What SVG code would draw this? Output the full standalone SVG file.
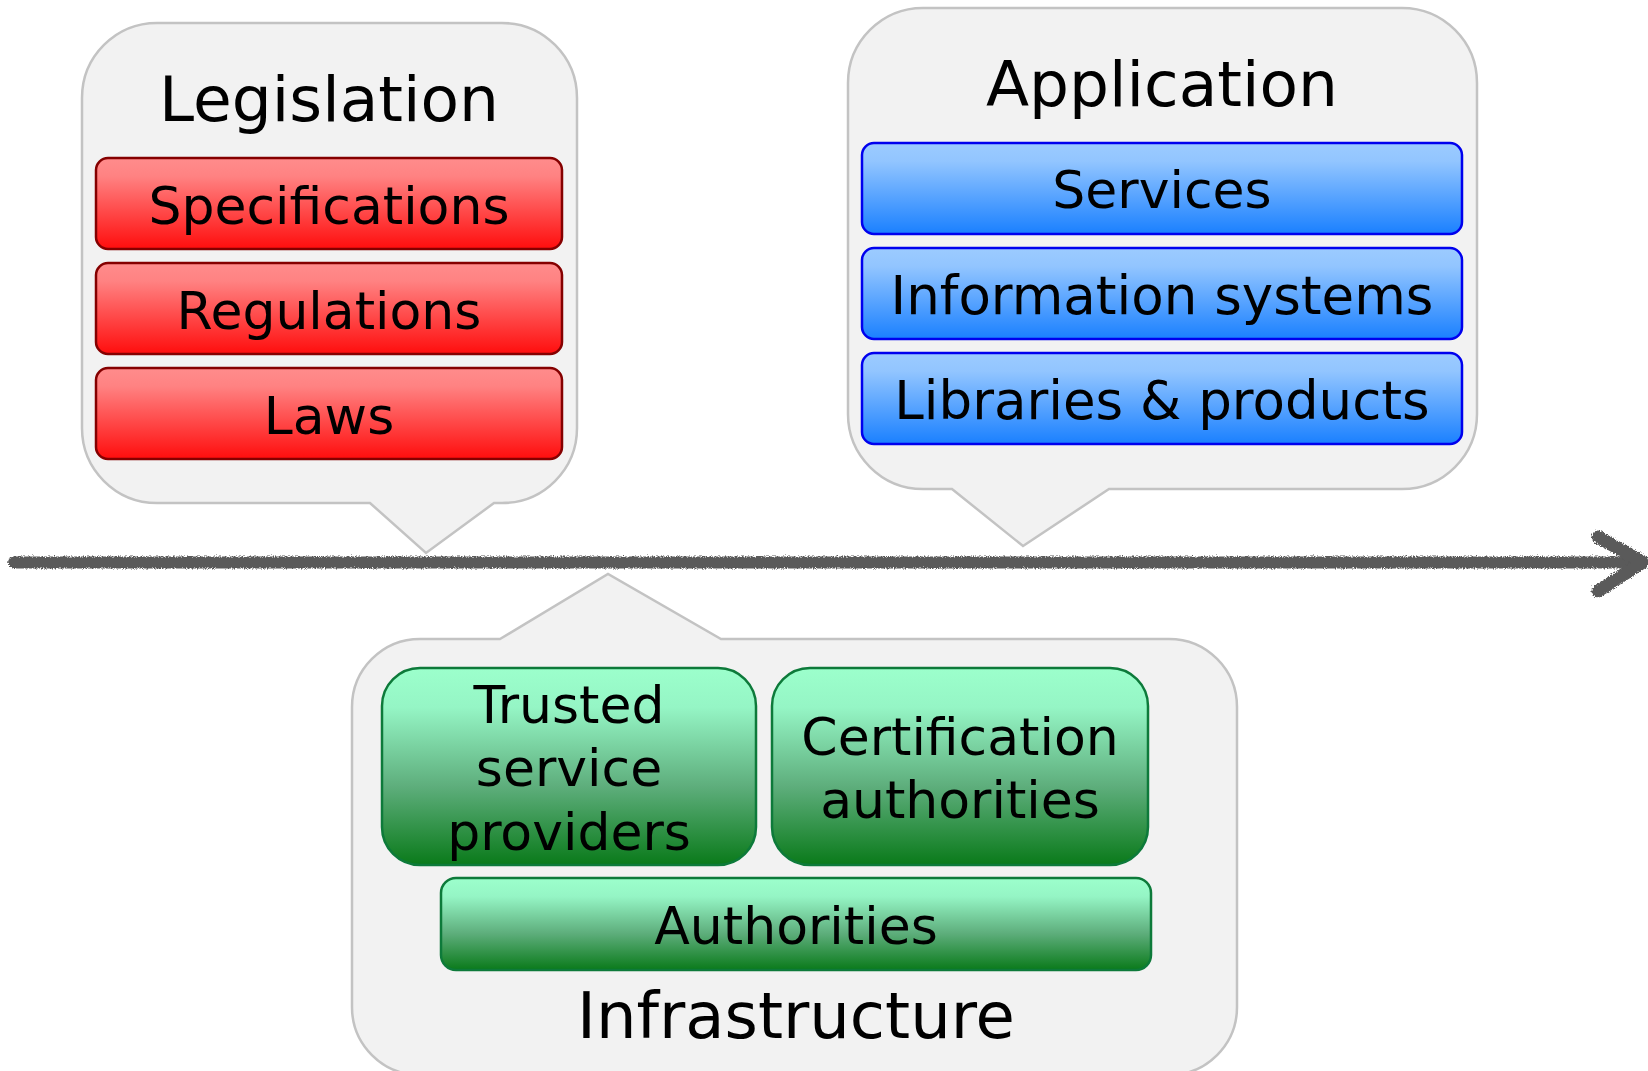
<svg xmlns="http://www.w3.org/2000/svg" width="1648" height="1071" viewBox="0 0 1648 1071">
<style>
.bubble{fill:#f2f2f2;stroke:#c3c3c3;stroke-width:2.5}
.t{font-family:"DejaVu Sans","Verdana",sans-serif;fill:#000;text-anchor:middle}
.title{font-size:63px}
.lbl{font-size:52px}
.wide{font-size:53px}
.red{fill:url(#gRed);stroke:#850000;stroke-width:2.5}
.blue{fill:url(#gBlue);stroke:#0000ee;stroke-width:2.5}
.green{fill:url(#gGreen);stroke:#0d7a3a;stroke-width:2.5}
.arrow{fill:none;stroke:#5a5a5a;stroke-linecap:round;stroke-linejoin:round}
</style>
<defs>
<linearGradient id="gRed" x1="0" y1="0" x2="0" y2="1">
<stop offset="0" stop-color="#ff8c8c"/>
<stop offset="0.2" stop-color="#ff8282"/>
<stop offset="1" stop-color="#ff0d0d"/>
</linearGradient>
<linearGradient id="gBlue" x1="0" y1="0" x2="0" y2="1">
<stop offset="0" stop-color="#9ccbff"/>
<stop offset="0.2" stop-color="#92c5ff"/>
<stop offset="1" stop-color="#1a80ff"/>
</linearGradient>
<linearGradient id="gGreen" x1="0" y1="0" x2="0" y2="1">
<stop offset="0" stop-color="#9cffcc"/>
<stop offset="0.2" stop-color="#95f5c5"/>
<stop offset="0.6" stop-color="#5eae7c"/>
<stop offset="1" stop-color="#0a7a1a"/>
</linearGradient>
<filter id="rough" x="-2%" y="-50%" width="104%" height="200%">
<feTurbulence type="fractalNoise" baseFrequency="0.9" numOctaves="2" seed="3" result="n"/>
<feDisplacementMap in="SourceGraphic" in2="n" scale="5" xChannelSelector="R" yChannelSelector="G"/>
</filter>
</defs>

<g id="connectors">
<g filter="url(#rough)">
<line class="arrow" x1="14" y1="562.5" x2="1640" y2="562.5" stroke-width="12"/>
<polyline class="arrow" points="1598,537 1643,562 1598,591" stroke-width="13"/>
</g>
</g>

<g id="legislation">
<path class="bubble" d="M157,23 H502 A75,75 0 0 1 577,98 V428 A75,75 0 0 1 502,503 H494 L426,553 L370,503 H157 A75,75 0 0 1 82,428 V98 A75,75 0 0 1 157,23 Z"/>
<text class="t title" x="329" y="121">Legislation</text>
</g>
<g id="specifications">
<rect class="red" x="96" y="158" width="466" height="91" rx="12"/>
<text class="t lbl" x="329" y="224">Specifications</text>
</g>
<g id="regulations">
<rect class="red" x="96" y="263" width="466" height="91" rx="12"/>
<text class="t lbl" x="329" y="329">Regulations</text>
</g>
<g id="laws">
<rect class="red" x="96" y="368" width="466" height="91" rx="12"/>
<text class="t lbl" x="329" y="434">Laws</text>
</g>

<g id="application">
<path class="bubble" d="M923,8 H1402 A75,75 0 0 1 1477,83 V414 A75,75 0 0 1 1402,489 H1109 L1023,546 L952,489 H923 A75,75 0 0 1 848,414 V83 A75,75 0 0 1 923,8 Z"/>
<text class="t title" x="1162" y="106">Application</text>
</g>
<g id="services">
<rect class="blue" x="862" y="143" width="600" height="91" rx="12"/>
<text class="t lbl" x="1162" y="208">Services</text>
</g>
<g id="information-systems">
<rect class="blue" x="862" y="248" width="600" height="91" rx="12"/>
<text class="t wide" x="1162" y="314">Information systems</text>
</g>
<g id="libraries-products">
<rect class="blue" x="862" y="353" width="600" height="91" rx="12"/>
<text class="t wide" x="1162" y="419">Libraries &amp; products</text>
</g>

<g id="infrastructure">
<path class="bubble" d="M500,639 L608,574 L721,639 H1169 A68,68 0 0 1 1237,707 V1007 A68,68 0 0 1 1169,1075 H420 A68,68 0 0 1 352,1007 V707 A68,68 0 0 1 420,639 Z"/>
<text class="t" style="font-size:64px" x="796" y="1038">Infrastructure</text>
</g>
<g id="trusted-service-providers">
<rect class="green" x="382" y="668" width="374" height="197" rx="38"/>
<text class="t lbl" x="569" y="723">Trusted</text>
<text class="t lbl" x="569" y="786">service</text>
<text class="t lbl" x="569" y="850">providers</text>
</g>
<g id="certification-authorities">
<rect class="green" x="772" y="668" width="376" height="197" rx="38"/>
<text class="t lbl" x="960" y="755">Certification</text>
<text class="t lbl" x="960" y="818">authorities</text>
</g>
<g id="authorities">
<rect class="green" x="441" y="878" width="710" height="92" rx="15"/>
<text class="t lbl" x="796" y="944">Authorities</text>
</g>
</svg>
